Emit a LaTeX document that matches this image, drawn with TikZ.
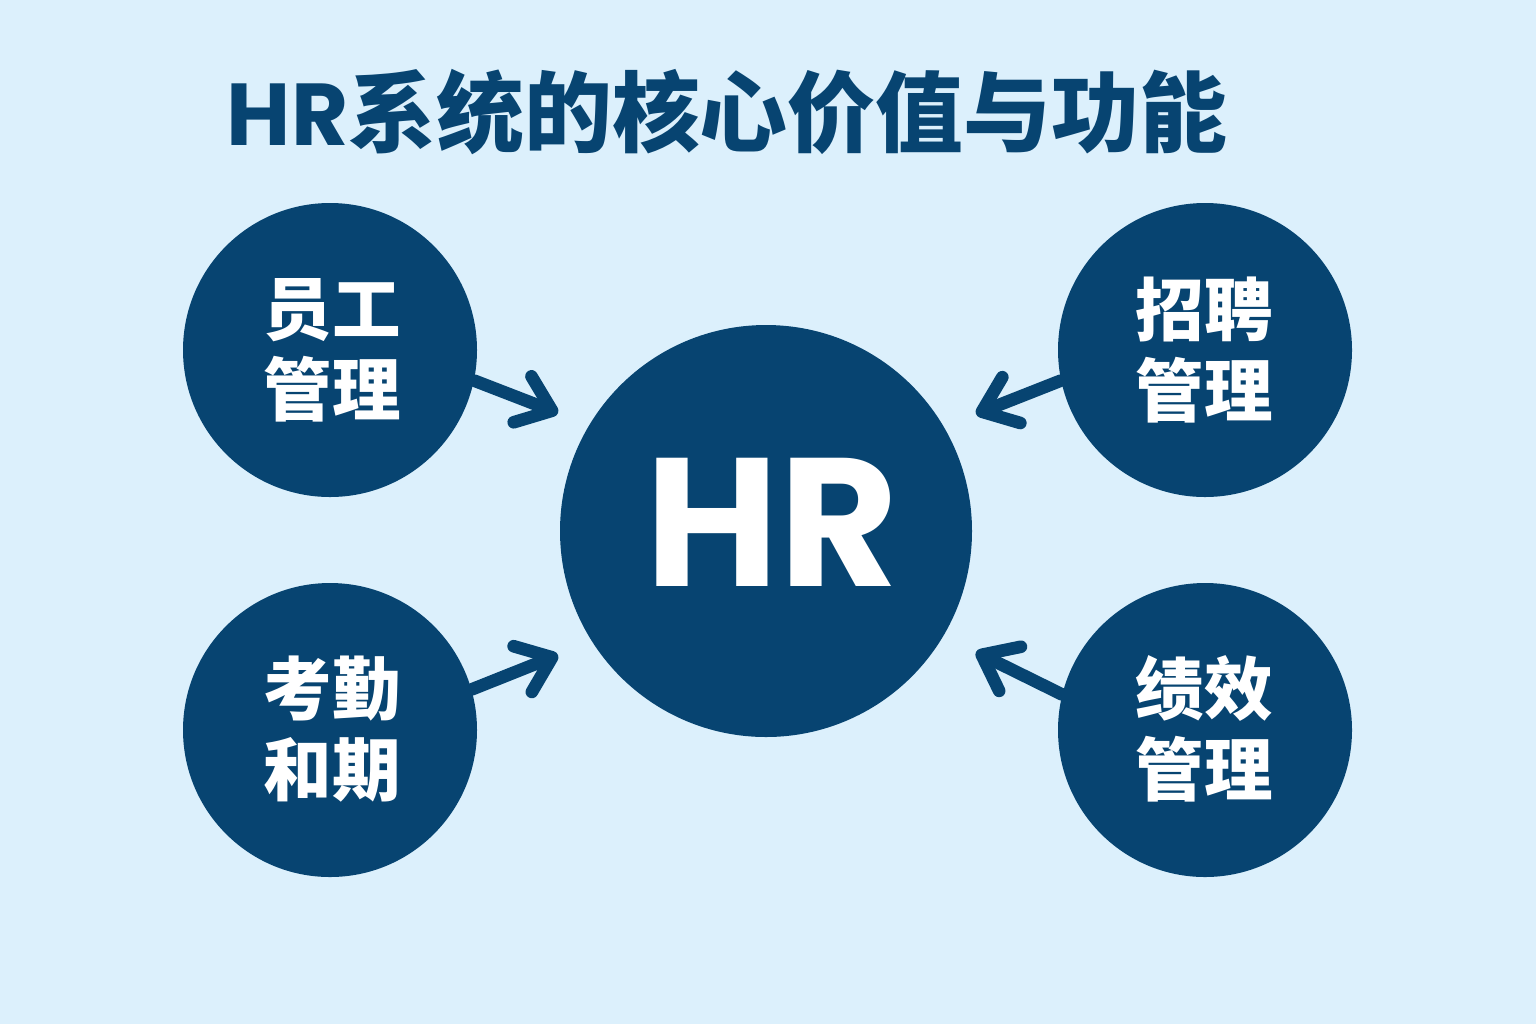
\documentclass[tikz,border=0pt]{standalone}
\usepackage{fontspec}
\usetikzlibrary{arrows.meta}
\newfontfamily\cjk{Noto Sans CJK SC}
\newfontfamily\pop{Poppins}
\definecolor{navy}{HTML}{074471}
\definecolor{bg}{HTML}{DCF0FC}
\tikzset{
  smallc/.style={circle, fill=navy, minimum size=2.94cm, inner sep=0pt},
  lbl/.style={text=white, align=center, font=\cjk\bfseries\fontsize{19.5pt}{23pt}\selectfont},
  arr/.style={draw=navy, line width=3.6pt, line cap=round, line join=round,
    -{Straight Barb[length=9pt, width=14pt, round]}},
}
\begin{document}
\begin{tikzpicture}
\fill[bg] (0,0) rectangle (15.36,-10.24);
\useasboundingbox (0,0) rectangle (15.36,-10.24);
\node[text=navy, font=\bfseries\fontsize{25pt}{30pt}\selectfont] (title) at (7.27,-1.12) {{\pop HR}{\cjk 系统的核心价值与功能}};
\node[circle, fill=navy, minimum size=4.12cm, inner sep=0pt] (hr) at (7.66,-5.31) {};
\node[text=white, font=\pop\bfseries\fontsize{52pt}{60pt}\selectfont] (hrt) at (7.72,-5.22) {HR};
\node[smallc] (tl) at (3.30,-3.50) {};
\node[smallc] (tr) at (12.05,-3.50) {};
\node[smallc] (bl) at (3.30,-7.30) {};
\node[smallc] (br) at (12.05,-7.30) {};
\node[lbl] (tlt) at (3.32,-3.50) {员工\\管理};
\node[lbl] (trt) at (12.04,-3.50) {招聘\\管理};
\node[lbl] (blt) at (3.32,-7.29) {考勤\\和期};
\node[lbl] (brt) at (12.04,-7.29) {绩效\\管理};
\coordinate (p1) at (5.58,-4.13);
\coordinate (p2) at (9.76,-4.14);
\coordinate (p3) at (5.58,-6.55);
\coordinate (p4) at (9.76,-6.52);
\draw[arr] (tl.-12) -- (p1);
\draw[arr] (tr.192) -- (p2);
\draw[arr] (bl.16) -- (p3);
\draw[arr] (br.166) -- (p4);
\end{tikzpicture}
\end{document}
